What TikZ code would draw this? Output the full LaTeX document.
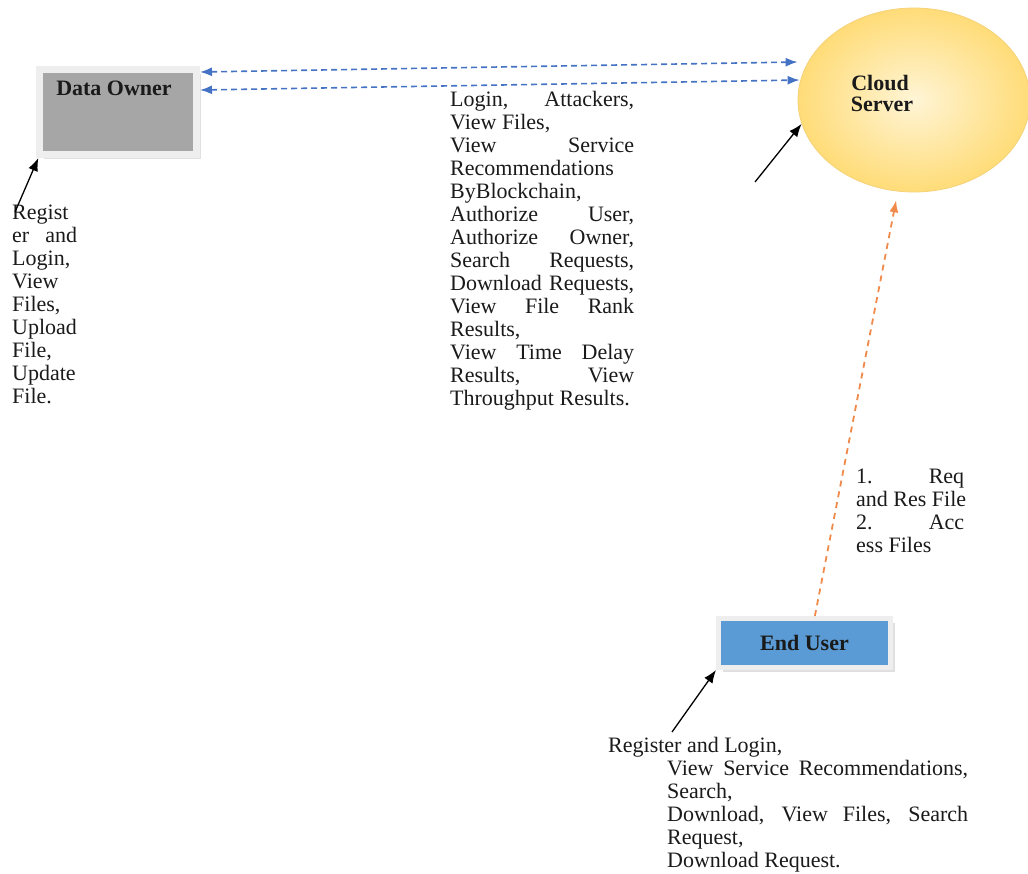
\documentclass[tikz,border=0pt]{standalone}
\usepackage{fontspec}
\setmainfont{Liberation Serif}
\usetikzlibrary{arrows.meta,shapes.geometric,shadows}
\definecolor{ownergray}{HTML}{A6A6A6}
\definecolor{boxrim}{HTML}{EEEEEE}
\definecolor{userblue}{HTML}{5B9BD5}
\definecolor{linkblue}{HTML}{4472C4}
\definecolor{linkorange}{HTML}{F08A4B}
\definecolor{cloudin}{HTML}{FFF5D6}
\definecolor{cloudout}{HTML}{FFDC78}
\definecolor{cloudrim}{HTML}{F5D27A}
\definecolor{inktext}{HTML}{1A1A1A}
\newcommand{\jline}[2]{\hbox to #1{#2}}
\newcommand{\nline}[1]{\hbox{#1}}
\begin{document}
\begin{tikzpicture}[x=1pt,y=-1pt,
  txt/.style={font=\fontsize{22}{23}\selectfont, inner sep=0pt, anchor=base west, text=inktext},
  lbl/.style={font=\fontsize{22}{23}\selectfont\bfseries, inner sep=0pt, text=inktext},
  boxshadow/.style={drop shadow={shadow xshift=4.5pt, shadow yshift=-4.5pt, fill=gray!70, opacity=0.35}},
  bluelink/.style={linkblue, line width=1.6pt, dash pattern=on 6pt off 4pt, {Latex[length=12pt,width=9pt]}-{Latex[length=12pt,width=9pt]}},
  orangelink/.style={linkorange, line width=1.8pt, dash pattern=on 6pt off 5pt, -{Latex[length=12pt,width=9pt]}},
  blackarrow/.style={black, line width=1.3pt, -{Latex[length=13pt,width=10pt]}}
]
\useasboundingbox (0,0) rectangle (1028,873);

% nodes
\node[boxshadow, rectangle, fill=ownergray, draw=boxrim, line width=7pt,
      minimum width=157pt, minimum height=85pt, inner sep=0pt,
      label={[lbl, xshift=-4pt, yshift=-30pt]north:Data Owner}] (owner) at (118,112) {};

\node[ellipse, minimum width=232pt, minimum height=184pt, inner sep=0pt,
      draw=cloudrim, line width=0.8pt, inner color=cloudin, outer color=cloudout,
      label={[lbl, xshift=-34pt, yshift=17pt]center:Cloud},
      label={[lbl, xshift=-32pt, yshift=-4pt]center:Server}] (cloud) at (914,100) {};

\node[boxshadow, rectangle, fill=userblue, draw=boxrim, line width=5pt,
      minimum width=172pt, minimum height=49pt, inner sep=0pt,
      font=\fontsize{22}{23}\selectfont\bfseries, text=inktext] (eu) at (804.5,643) {End User};

% text blocks
\node[txt] (ownertext) at (12,219) {\vtop{%
  \nline{Regist}
  \jline{65pt}{er and}
  \nline{Login,}
  \nline{View}
  \nline{Files,}
  \nline{Upload}
  \nline{File,}
  \nline{Update}
  \nline{File.}}};

\node[txt] (cloudtext) at (450,106) {\vtop{%
  \jline{184pt}{Login, Attackers,}
  \nline{View Files,}
  \jline{184pt}{View Service}
  \nline{Recommendations}
  \nline{ByBlockchain,}
  \jline{184pt}{Authorize User,}
  \jline{184pt}{Authorize Owner,}
  \jline{184pt}{Search Requests,}
  \jline{184pt}{Download Requests,}
  \jline{184pt}{View File Rank}
  \nline{Results,}
  \jline{184pt}{View Time Delay}
  \jline{184pt}{Results, View}
  \nline{Throughput Results.}}};

\node[txt] (reqtext) at (856,483) {\vtop{%
  \jline{108pt}{1. Req}
  \nline{and Res File}
  \jline{108pt}{2. Acc}
  \nline{ess Files}}};

\node[txt] (usertext) at (608,752) {\vtop{%
  \nline{Register and Login,}
  \nline{\hskip59pt\jline{301pt}{View Service Recommendations,}}
  \nline{\hskip59pt Search,}
  \nline{\hskip59pt\jline{301pt}{Download, View Files, Search}}
  \nline{\hskip59pt Request,}
  \nline{\hskip59pt Download Request.}}};

% free arrow tails
\coordinate (ownertail) at (15,212);
\coordinate (cloudtail) at (755,182);
\coordinate (usertail) at (672,732);

% connectors
\draw[bluelink] (owner.26) -- ([yshift=38pt]cloud.west);
\draw[bluelink] (owner.15.7) -- ([xshift=2pt,yshift=20pt]cloud.west);
\draw[orangelink, shorten >=9pt] (eu.69) -- (cloud.260.4);
\draw[blackarrow] (ownertail) -- (owner.210);
\draw[blackarrow] (cloudtail) -- (cloud.192);
\draw[blackarrow] (usertail) -- (eu.south west);
\end{tikzpicture}
\end{document}
